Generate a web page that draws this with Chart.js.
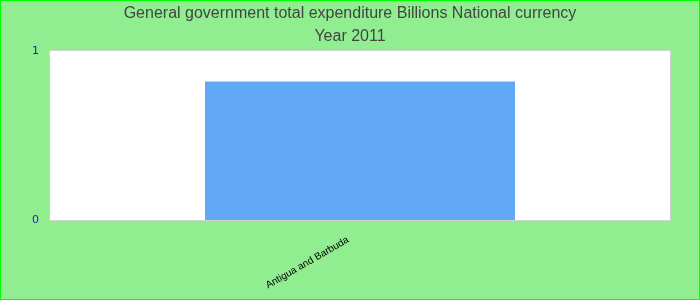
<!DOCTYPE html>
<html>
<head>
<meta charset="utf-8">
<script src="https://cdn.jsdelivr.net/npm/chart.js@4"></script>
<style>
  html, body { margin: 0; padding: 0; background: #90EE90; }
  #wrap { width: 698px; height: 298px; border: 1px solid #00ff00; }
</style>
</head>
<body>
<div id="wrap"><canvas id="chart" width="698" height="298"></canvas></div>
<script>
const categories = ['Antigua and Barbuda'];
const values = [0.82];
const yTicks = [0, 1];
const titleLines = ['General government total expenditure Billions National currency', 'Year 2011'];

// white plot background with a thin grey frame
const plotBg = {
    id: 'plotBg',
    beforeDraw(chart) {
        const { ctx, chartArea: a } = chart;
        ctx.save();
        ctx.fillStyle = '#ffffff';
        ctx.fillRect(a.left, a.top, a.right - a.left, a.bottom - a.top);
        ctx.strokeStyle = '#d0d0d0';
        ctx.lineWidth = 1;
        ctx.strokeRect(a.left - 0.5, a.top - 0.5, a.right - a.left + 1, a.bottom - a.top + 1);
        ctx.restore();
    }
};

const ctx = document.getElementById('chart').getContext('2d');
new Chart(ctx, {
    type: 'bar',
    data: {
        labels: categories,
        datasets: [{
            data: values,
            backgroundColor: '#61a9f6',
            borderWidth: 0,
            barPercentage: 0.5,
            categoryPercentage: 1
        }]
    },
    options: {
        responsive: false,
        animation: false,
        layout: { padding: 0 },
        plugins: {
            legend: { display: false },
            tooltip: { enabled: false },
            title: {
                display: true,
                text: titleLines,
                color: '#444444',
                font: { family: 'Liberation Sans', size: 16, weight: 'normal', lineHeight: 1.4375 },
                padding: { top: 1, bottom: 3 }
            }
        },
        scales: {
            x: {
                grid: { display: false, drawTicks: false },
                border: { display: false },
                ticks: {
                    color: '#000000',
                    font: { family: 'Liberation Sans', size: 10 },
                    minRotation: 30,
                    maxRotation: 30,
                    padding: 14,
                    labelOffset: -12
                },
                afterFit: s => { s.height = 79; }
            },
            y: {
                min: yTicks[0],
                max: yTicks[yTicks.length - 1],
                grid: { display: false, drawTicks: false },
                border: { display: false },
                afterBuildTicks: s => { s.ticks = yTicks.map(v => ({ value: v })); },
                ticks: {
                    color: '#1a1acc',
                    font: { family: 'DejaVu Sans', size: 11 },
                    padding: 11
                },
                afterFit: s => { s.width = 49; }
            },
            // empty right-hand axis, only to keep a margin on the right
            yRight: {
                position: 'right',
                display: true,
                grid: { display: false, drawTicks: false },
                border: { display: false },
                ticks: { display: false },
                afterFit: s => { s.width = 29; }
            }
        }
    },
    plugins: [plotBg]
});
</script>
</body>
</html>
